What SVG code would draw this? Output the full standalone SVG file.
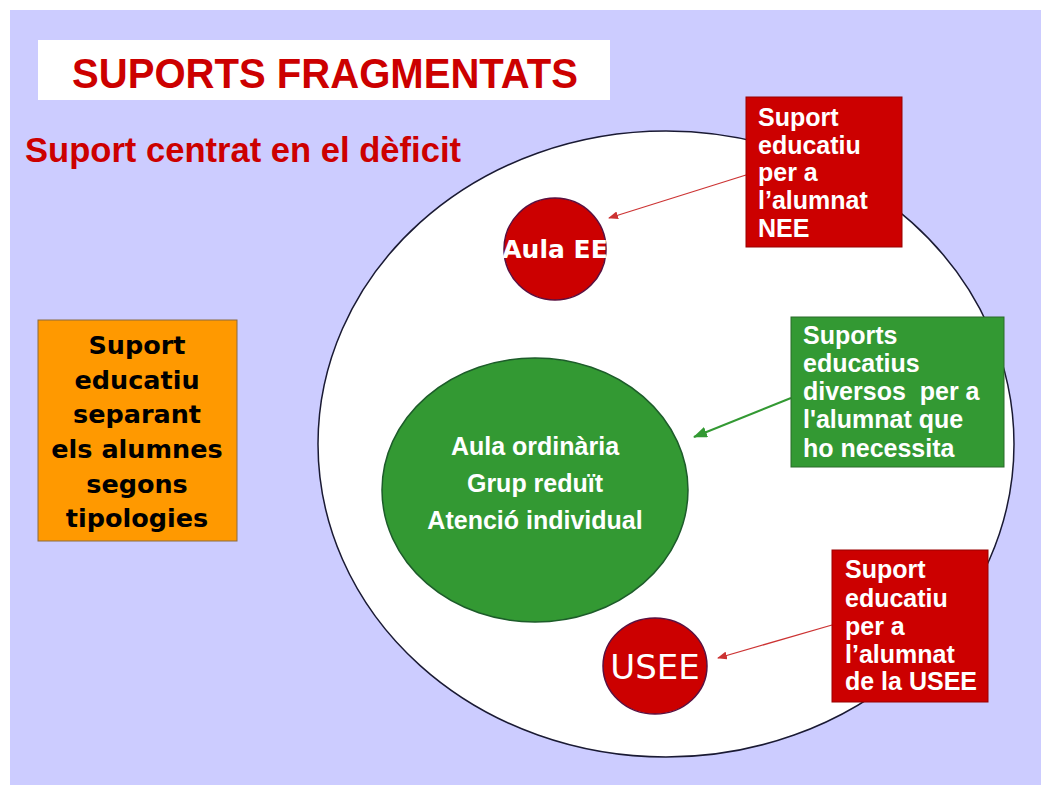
<svg xmlns="http://www.w3.org/2000/svg" width="1041" height="785" viewBox="0 0 1041 785">
  <style>
    .title{font-family:"Liberation Sans",Arial,sans-serif;font-weight:bold;fill:#cc0000}
    .box{font-family:"Liberation Sans",Arial,sans-serif;font-weight:bold;font-size:25px;fill:#ffffff}
    .orange{font-family:"DejaVu Sans",Verdana,sans-serif;font-weight:bold;font-size:25.5px;fill:#000000;text-anchor:middle}
    .center{font-family:"Liberation Sans",Arial,sans-serif;font-weight:bold;font-size:25px;fill:#ffffff;text-anchor:middle}
    .round{font-family:"DejaVu Sans",Verdana,sans-serif;fill:#ffffff;text-anchor:middle}
    .redbox{fill:#cc0000;stroke:#990000;stroke-width:1}
    .redcircle{fill:#cc0000;stroke:#5a1040;stroke-width:1.5}
  </style>
  <defs>
    <marker id="ahRed" markerWidth="10" markerHeight="8" refX="9" refY="4" orient="auto" markerUnits="userSpaceOnUse">
      <path d="M0,0 L10,4 L0,8 Z" fill="#cc3333"/>
    </marker>
    <marker id="ahGreen" markerWidth="14" markerHeight="11" refX="13" refY="5.5" orient="auto" markerUnits="userSpaceOnUse">
      <path d="M0,0 L14,5.5 L0,11 Z" fill="#339933"/>
    </marker>
  </defs>

  <rect x="0" y="0" width="1041" height="785" fill="#ffffff"/>
  <rect x="10" y="10" width="1031" height="775" fill="#ccccff"/>

  <g id="title">
    <rect x="38" y="40" width="572" height="60" fill="#ffffff"/>
    <text class="title" x="72" y="88" font-size="43" textLength="506" lengthAdjust="spacingAndGlyphs">SUPORTS FRAGMENTATS</text>
  </g>
  <g id="subtitle">
    <text class="title" x="25" y="162" font-size="35" textLength="436" lengthAdjust="spacingAndGlyphs">Suport centrat en el dèficit</text>
  </g>

  <g id="school">
    <ellipse cx="666" cy="444" rx="348" ry="313" fill="#ffffff" stroke="#1a1a33" stroke-width="1.5"/>
  </g>

  <g id="aula-ordinaria">
    <ellipse cx="535" cy="490" rx="153" ry="132" fill="#339933" stroke="#1d5c2a" stroke-width="1.5"/>
    <text class="center" x="535" y="455">Aula ordinària</text>
    <text class="center" x="535" y="492">Grup reduït</text>
    <text class="center" x="535" y="529">Atenció individual</text>
  </g>

  <g id="aula-ee">
    <circle class="redcircle" cx="555" cy="249" r="51"/>
    <text class="round" x="555" y="258" font-size="25" font-weight="bold">Aula EE</text>
  </g>

  <g id="usee">
    <ellipse class="redcircle" cx="655" cy="666" rx="52" ry="48"/>
    <text class="round" x="655" y="679" font-size="34">USEE</text>
  </g>

  <g id="orange-box">
    <rect x="38" y="320" width="199" height="221" fill="#ff9900" stroke="#8a6a40" stroke-width="1"/>
    <text class="orange" x="137" y="354">Suport</text>
    <text class="orange" x="137" y="389">educatiu</text>
    <text class="orange" x="137" y="423">separant</text>
    <text class="orange" x="137" y="458">els alumnes</text>
    <text class="orange" x="137" y="493">segons</text>
    <text class="orange" x="137" y="527">tipologies</text>
  </g>

  <g id="connectors">
    <line x1="746" y1="175" x2="609" y2="218" stroke="#cc3333" stroke-width="1.3" marker-end="url(#ahRed)"/>
    <line x1="791" y1="398" x2="694" y2="437" stroke="#339933" stroke-width="2" marker-end="url(#ahGreen)"/>
    <line x1="832" y1="625" x2="718" y2="658" stroke="#cc3333" stroke-width="1.3" marker-end="url(#ahRed)"/>
  </g>

  <g id="nee-box">
    <rect class="redbox" x="746" y="97" width="156" height="150"/>
    <text class="box" x="758" y="126">Suport</text>
    <text class="box" x="758" y="154">educatiu</text>
    <text class="box" x="758" y="181">per a</text>
    <text class="box" x="758" y="209">l’alumnat</text>
    <text class="box" x="758" y="237">NEE</text>
  </g>

  <g id="diversos-box">
    <rect x="791" y="317" width="213" height="150" fill="#339933" stroke="#2a6a2a" stroke-width="1"/>
    <text class="box" x="803" y="344">Suports</text>
    <text class="box" x="803" y="372">educatius</text>
    <text class="box" x="803" y="400" xml:space="preserve">diversos  per a</text>
    <text class="box" x="803" y="428">l'alumnat que</text>
    <text class="box" x="803" y="457">ho necessita</text>
  </g>

  <g id="usee-box">
    <rect class="redbox" x="832" y="550" width="156" height="152"/>
    <text class="box" x="845" y="578">Suport</text>
    <text class="box" x="845" y="607">educatiu</text>
    <text class="box" x="845" y="635">per a</text>
    <text class="box" x="845" y="663">l’alumnat</text>
    <text class="box" x="845" y="690">de la USEE</text>
  </g>
</svg>
